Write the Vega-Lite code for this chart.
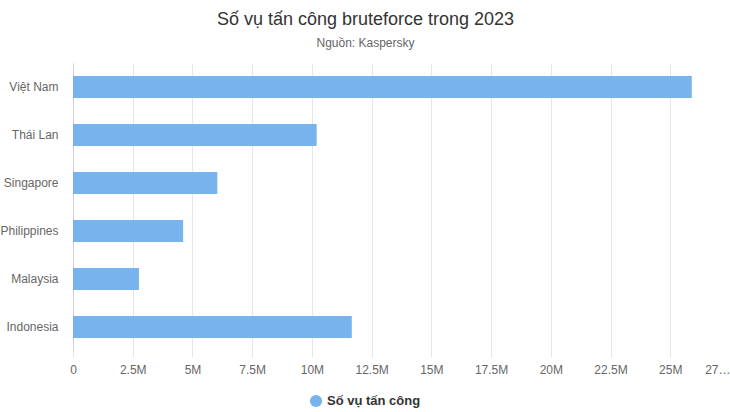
{
  "$schema": "https://vega.github.io/schema/vega-lite/v6.json",
  "autosize": {"type": "none"},
  "padding": {"left": 73, "top": 63, "right": 0, "bottom": 61},
  "width": 657,
  "height": 288,
  "background": "#ffffff",
  "title": {
    "text": "Số vụ tấn công bruteforce trong 2023",
    "subtitle": "Nguồn: Kaspersky",
    "anchor": "middle",
    "frame": "group",
    "dx": -36,
    "offset": 12,
    "dy": -2,
    "font": "Liberation Sans",
    "fontSize": 18,
    "fontWeight": "normal",
    "color": "#333333",
    "subtitleFont": "Liberation Sans",
    "subtitleFontSize": 12,
    "subtitleColor": "#666666",
    "subtitlePadding": 9
  },
  "data": {
    "values": [
      {"country": "Việt Nam", "attacks": 25900000},
      {"country": "Thái Lan", "attacks": 10200000},
      {"country": "Singapore", "attacks": 6040000},
      {"country": "Philippines", "attacks": 4610000},
      {"country": "Malaysia", "attacks": 2760000},
      {"country": "Indonesia", "attacks": 11670000}
    ]
  },
  "mark": {"type": "bar", "color": "#78b3ee"},
  "encoding": {
    "y": {
      "field": "country",
      "type": "nominal",
      "sort": null,
      "title": null,
      "scale": {"paddingInner": 0.54, "paddingOuter": 0.27},
      "axis": {
        "ticks": false,
        "domain": true,
        "domainColor": "#ccd6eb",
        "labelPadding": 15,
        "labelFont": "Liberation Sans",
        "labelFontSize": 12,
        "labelColor": "#666666"
      }
    },
    "x": {
      "field": "attacks",
      "type": "quantitative",
      "title": null,
      "scale": {"domain": [0, 27500000], "nice": false},
      "axis": {
        "values": [0, 2500000, 5000000, 7500000, 10000000, 12500000, 15000000, 17500000, 20000000, 22500000, 25000000, 27500000],
        "labelExpr": "datum.value == 0 ? '0' : (datum.value == 27500000 ? '27…' : format(datum.value / 1000000, '~g') + 'M')",
        "labelFlush": false,
        "labelAlign": {"condition": {"test": "datum.value == 27500000", "value": "right"}, "value": "center"},
        "labelOverlap": false,
        "ticks": true,
        "tickSize": 6,
        "tickColor": "#e6e6e6",
        "domain": false,
        "grid": true,
        "gridColor": "#e6e6e6",
        "labelPadding": 7,
        "labelFont": "Liberation Sans",
        "labelFontSize": 12,
        "labelColor": "#666666"
      }
    },
    "color": {
      "datum": "Số vụ tấn công",
      "scale": {"range": ["#78b3ee"]},
      "legend": {
        "title": null,
        "orient": "none",
        "legendX": 236,
        "legendY": 331,
        "symbolType": "circle",
        "symbolSize": 150,
        "labelFont": "Liberation Sans",
        "labelFontSize": 13,
        "labelFontWeight": "bold",
        "labelColor": "#333333"
      }
    }
  },
  "config": {"view": {"stroke": null}}
}
